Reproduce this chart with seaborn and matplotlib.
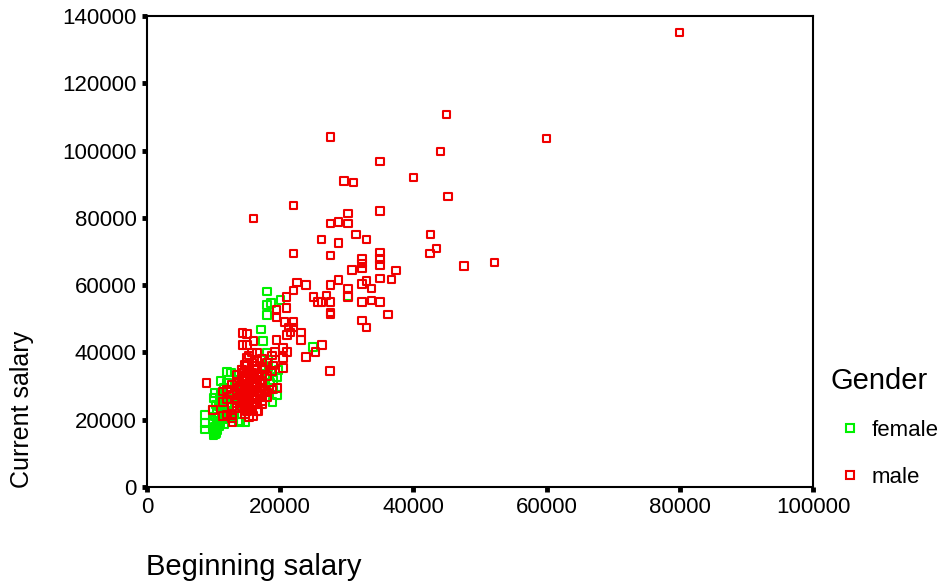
import matplotlib
matplotlib.use("Agg")
import matplotlib.pyplot as plt
import pandas as pd
import seaborn as sns
from matplotlib.lines import Line2D

# values
male_begin = [80000, 45000, 27600, 60000, 44100, 35000, 40000, 29600, 31000, 45200, 22000, 35000, 16000,
              30200, 30200, 27600, 28800, 31400, 42600, 33000, 26250, 28800, 43500, 42500, 22000, 27600,
              35000, 35000, 35000, 32300, 32300, 32300, 30800, 37400, 47600, 52200, 36750, 35000, 33000,
              32300, 28800, 27600, 22500, 23900, 22000, 30200, 33750, 30200, 27000, 25000, 25700, 27600,
              26250, 32300, 33750, 35000, 27600, 27600, 36200, 32300, 33000,
              27500, 23900, 25300, 26300, 23100, 23100, 20900, 19400, 19400, 20900, 20600, 22000, 22000,
              21000, 21500, 21200, 19400, 14300, 15000, 14300, 15000, 16000, 20400, 21000, 19200, 20400,
              20400, 18900, 8900, 9900, 11400, 11400, 11400, 12800, 12800, 15900, 16700, 18000, 19500, 17300,
              15000, 15000, 15000, 15000, 15000, 15000, 15000, 15000, 15000, 15000, 15000, 15000, 15000,
              15750, 15750, 15750, 15750, 15750, 15750, 15750, 15750, 15750, 15750, 15750, 15750,
              16500, 16500, 16500, 16500, 16500, 16500, 16500, 16500, 16500, 16500, 16500,
              14250, 14250, 14250, 14250, 14250, 14250, 14250, 14250, 14250, 14250,
              13500, 13500, 13500, 13500, 13500, 13500, 13500, 12750, 12750, 12750, 12750, 12000, 12000, 12000,
              17250, 17250, 17250, 17250, 17250, 17250, 17250, 18000, 18000, 18000, 18750, 18750, 18750,
              14700, 15300, 15300, 16200, 16200, 14700, 14700, 15300, 16200, 17000, 17000, 17700, 17700]
male_current = [135000, 110700, 104000, 103500, 99800, 96800, 92000, 91000, 90500, 86300, 83700, 82000, 79800,
                81300, 78400, 78300, 78800, 75000, 75000, 73500, 73500, 72500, 70800, 69400, 69500, 68800,
                69700, 67800, 66000, 67800, 66500, 65000, 64500, 64400, 65700, 66700, 61600, 62000, 61200,
                60300, 61500, 60000, 60700, 60000, 58500, 59000, 59000, 56500, 57000, 56500, 55000, 55000,
                55000, 55000, 55500, 55000, 51800, 51300, 51300, 49500, 47400,
                34500, 38600, 40100, 42200, 46000, 43700, 56500, 52600, 50500, 53200, 49000, 49000, 47500,
                45200, 46000, 47500, 43700, 45800, 45500, 42200, 42200, 43400, 41300, 40100, 40100, 38300,
                35400, 36200, 30900, 22900, 28300, 25300, 21100, 21400, 19300, 21100, 22600, 26700, 29400, 25600,
                22500, 24000, 25500, 26500, 27500, 28500, 29500, 30500, 31500, 33000, 34500, 36000, 38500,
                23000, 24500, 26000, 27000, 28000, 29000, 30000, 31000, 32500, 34000, 37000, 40000,
                22500, 25000, 27000, 28500, 30000, 31000, 32000, 33500, 35000, 37500, 39800,
                24000, 25500, 27000, 28000, 29000, 30000, 31500, 32500, 34000, 35000,
                23500, 25000, 26500, 28000, 29500, 31000, 33500, 20500, 24000, 27500, 30500, 21500, 26000, 29000,
                24500, 27000, 29500, 31500, 33000, 35500, 38000, 28000, 33000, 37000, 29000, 34500, 39000,
                21500, 20800, 23500, 24500, 29000, 32500, 36500, 39000, 36000, 27000, 31000, 28500, 35000]
female_begin = [18000, 18000, 18600, 20000, 18000, 17100, 17400, 24900, 30200, 18800, 19500, 18200, 18200,
                19500, 18900, 19700, 12000, 11100, 10200, 10000, 8700, 8700, 8700, 10050, 14000, 18000,
                10000, 10000, 10200, 10200, 10200, 10400, 10400, 10400, 10600, 10600, 10800, 10800, 10100,
                9900, 10500, 10700, 11000, 11000, 11000, 11300, 11300, 11500, 11500, 11700, 11700, 12000,
                12000, 12300, 12300, 12600, 12600, 13000, 13000, 13400, 13400, 13800, 14200, 14200, 14800,
                10300, 10900, 11200, 11600, 12400, 13200, 17000, 17500, 18500, 19000]
female_current = [58200, 54100, 54700, 55600, 51100, 46900, 43400, 41600, 56800, 25300, 27300, 37700, 35700,
                  32700, 31800, 34800, 34200, 31500, 27900, 26500, 21400, 19000, 17000, 16000, 19300, 40000,
                  15500, 17000, 15800, 16500, 18000, 16000, 17500, 19500, 16800, 18800, 18000, 20500, 21000,
                  23000, 22000, 24000, 19000, 25500, 28000, 21000, 27000, 23000, 29500, 20000, 26000, 24000,
                  31000, 22000, 28500, 21000, 34000, 20500, 27000, 23500, 32000, 19500, 21500, 35000, 19300,
                  24500, 26500, 22500, 18500, 25000, 30000, 33000, 36000, 31000, 29000]

x_ticks = [0, 20000, 40000, 60000, 80000, 100000]
y_ticks = [0, 20000, 40000, 60000, 80000, 100000, 120000, 140000]

plt.rcParams['font.family'] = ['Liberation Sans', 'DejaVu Sans']

df_f = pd.DataFrame({"Beginning salary": female_begin, "Current salary": female_current})
df_m = pd.DataFrame({"Beginning salary": male_begin, "Current salary": male_current})

fig = plt.figure(figsize=(9.44, 5.82), dpi=100)
ax = fig.add_axes([147/944, 1 - 487/582, (813-147)/944, (487-16)/582])

sns.scatterplot(data=df_f, x="Beginning salary", y="Current salary", ax=ax, marker="s", s=28,
                facecolor="none", edgecolor="#00f000", linewidth=1.5, clip_on=False)
sns.scatterplot(data=df_m, x="Beginning salary", y="Current salary", ax=ax, marker="s", s=28,
                facecolor="none", edgecolor="#f00000", linewidth=1.5, clip_on=False)

ax.set_xlim(0, 100000)
ax.set_ylim(0, 140000)
ax.set_xticks(x_ticks)
ax.set_yticks(y_ticks)
ax.tick_params(length=3.5, width=3.5, labelsize=16, pad=4)
ax.tick_params(axis="x", pad=4)
for s in ax.spines.values():
    s.set_linewidth(1.5)

ax.set_xlabel("")
ax.set_ylabel("")
fig.text(146/944, 1 - 567/582, "Beginning salary", fontsize=21, va="center", ha="left")
fig.text(22/944, 1 - 409/582, "Current salary", fontsize=18, rotation=90, va="center", ha="center")

# legend
handles = [Line2D([], [], marker="s", ls="", mfc="none", mec="#00f000", mew=1.5, ms=5.3),
           Line2D([], [], marker="s", ls="", mfc="none", mec="#f00000", mew=1.5, ms=5.3)]
fig.text(831/944, 1 - 381/582, "Gender", fontsize=21, va="center", ha="left")
leg = fig.legend(handles, ["female", "male"], frameon=False, fontsize=16,
                 loc="upper left", bbox_to_anchor=(822/944, 1 - 409/582),
                 labelspacing=1.15, handletextpad=0.25, borderpad=0, handlelength=1.5)

plt.savefig("out.png", dpi=100)
